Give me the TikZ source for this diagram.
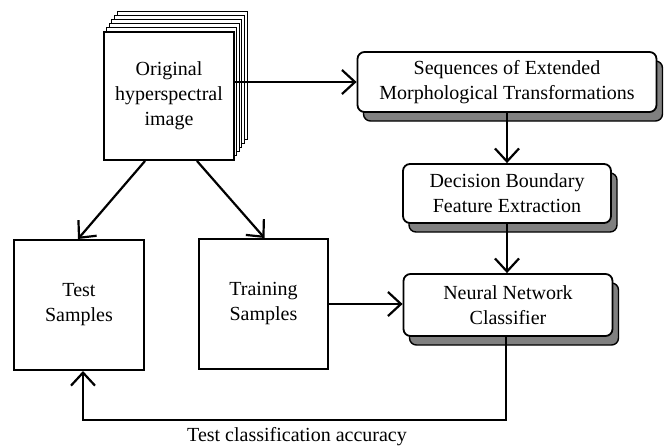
\documentclass[tikz,border=0pt]{standalone}
\usepackage{fontspec}
\setmainfont{Liberation Serif}
\usetikzlibrary{arrows.meta,shadows,calc}
\begin{document}
\begin{tikzpicture}[x=1pt,y=-1pt,
  every node/.style={font=\fontsize{20}{25}\selectfont, align=center},
  plainbox/.style={draw=black, line width=2pt, fill=white, inner sep=0pt},
  roundbox/.style={draw=black, line width=1.8pt, fill=white, rounded corners=7pt, inner sep=0pt,
    general shadow={shadow xshift=6pt, shadow yshift=-9pt, fill=black!50, draw=black, line width=1.4pt}},
  layer/.style={draw=black, line width=1pt, fill=white},
  conn/.style={line width=2.2pt, -{Straight Barb[length=13pt,width=24pt,line width=2.2pt]}},
  feed/.style={line width=2pt},
  lbl/.style={font=\fontsize{20}{25}\selectfont}
]
\useasboundingbox (0,0) rectangle (669,445);
% stack of image layers behind the front sheet
\foreach \k in {5,4,3,2,1}
  \draw[layer] (104+2.6*\k,32-4.2*\k) rectangle ++(130,128);
\node[plainbox, minimum width=130pt, minimum height=128pt] (orig) at (169,96) {Original\\hyperspectral\\image};
\node[roundbox, minimum width=299pt, minimum height=60pt] (seq) at (507,82) {Sequences of Extended\\Morphological Transformations};
\node[roundbox, minimum width=208pt, minimum height=59pt] (dec) at (507,193.5) {Decision Boundary\\Feature Extraction};
\node[roundbox, minimum width=209pt, minimum height=62pt] (nn) at (508,305) {Neural Network\\Classifier};
\node[plainbox, minimum width=130pt, minimum height=130pt] (test) at (79,305) {Test\\Samples};
\node[plainbox, minimum width=129pt, minimum height=130pt] (train) at (263.5,304) {Training\\Samples};
\node[lbl] (acc) at (297,437) {Test classification accuracy};
\coordinate (o1) at ($(orig.south)+(-24,0)$);
\coordinate (o2) at ($(orig.south)+(28,0)$);
\coordinate (fb) at ($(nn.south)+(-2,83)$);
\draw[conn] (orig.east |- seq.west) -- (seq.west);
\draw[conn] (seq.south) -- (seq.south |- dec.north);
\draw[conn] (dec.south) -- (dec.south |- nn.north);
\draw[conn] (train.east) -- (train.east -| nn.west);
\draw[conn] (o1) -- ($(test.north)+(-1,0)$);
\draw[conn] (o2) -- ($(train.north)+(1,0)$);
\draw[feed] (fb |- nn.south) -- (fb) -| ($(test.south)+(4,6)$);
\draw[conn] ($(test.south)+(4,48)$) -- ($(test.south)+(4,0)$);
\end{tikzpicture}
\end{document}
